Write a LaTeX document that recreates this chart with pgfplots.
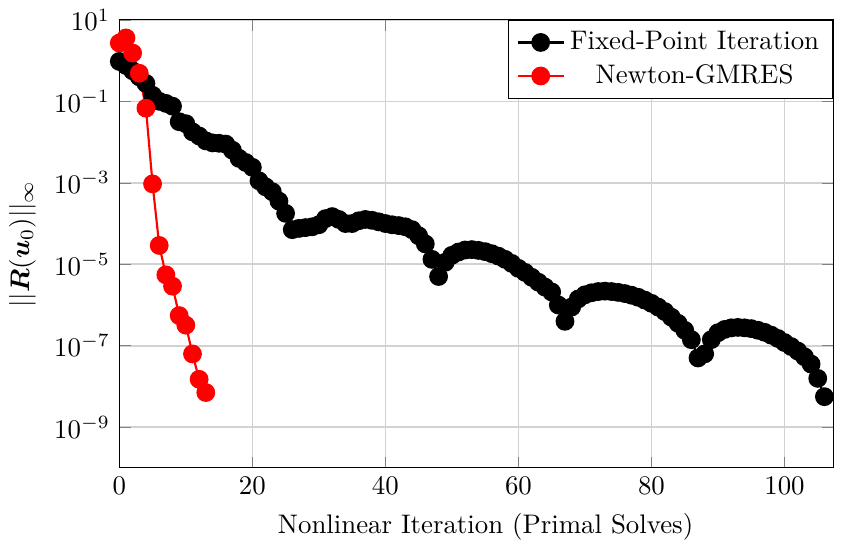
\documentclass[border=0pt]{standalone}
\usepackage{pgfplots}
\pgfplotsset{compat=1.18}
\usepackage{bm}
\begin{document}
\begin{tikzpicture}
\begin{axis}[
  scale only axis,
  width=266pt, height=167pt,
  ymode=log,
  xmin=0, xmax=107.3,
  ymin=1e-10, ymax=1e1,
  xtick={0,20,40,60,80,100},
  ytick={1e1,1e-1,1e-3,1e-5,1e-7,1e-9},
  minor ytick={},
  grid=major,
  major grid style={line width=0.6pt, draw=gray!35},
  xlabel={Nonlinear Iteration (Primal Solves)},
  xlabel style={xshift=3.5pt},
  ylabel={$||\bm{R}(\bm{u}_0)||_\infty$},
  legend cell align=center,
  legend style={at={(1,1)}, anchor=north east, draw=black, fill=white},
]
\addplot[black, thick, mark=*, mark size=3.1pt] coordinates {
(0,0.955)(1,0.759)(2,0.562)(3,0.398)(4,0.275)(5,0.141)(6,0.100)(7,0.0891)(8,0.0759)(9,0.0316)
(10,0.0282)(11,0.0178)(12,0.0141)(13,0.0107)(14,0.00955)(15,0.00933)(16,0.00891)(17,0.00631)(18,0.00398)(19,0.00316)
(20,0.00240)(21,0.00112)(22,7.94e-4)(23,6.03e-4)(24,3.55e-4)(25,1.78e-4)(26,7.08e-5)(27,7.59e-5)(28,7.94e-5)(29,8.32e-5)
(30,9.33e-5)(31,1.32e-4)(32,1.48e-4)(33,1.26e-4)(34,1.0e-4)(35,1.0e-4)(36,1.17e-4)(37,1.26e-4)(38,1.20e-4)(39,1.10e-4)
(40,1.0e-4)(41,9.33e-5)(42,8.91e-5)(43,8.32e-5)(44,7.08e-5)(45,5.01e-5)(46,3.16e-5)(47,1.32e-5)(48,5.01e-6)(49,1.12e-5)
(50,1.66e-5)(51,2.0e-5)(52,2.24e-5)(53,2.29e-5)(54,2.19e-5)(55,2.04e-5)(56,1.82e-5)(57,1.58e-5)(58,1.32e-5)(59,1.05e-5)
(60,7.94e-6)(61,6.31e-6)(62,4.79e-6)(63,3.63e-6)(64,2.75e-6)(65,2.09e-6)(66,1.0e-6)(67,3.98e-7)(68,8.91e-7)(69,1.41e-6)
(70,1.78e-6)(71,2.0e-6)(72,2.14e-6)(73,2.19e-6)(74,2.14e-6)(75,2.04e-6)(76,1.91e-6)(77,1.74e-6)(78,1.55e-6)(79,1.32e-6)
(80,1.10e-6)(81,8.91e-7)(82,6.92e-7)(83,5.01e-7)(84,3.55e-7)(85,2.40e-7)(86,1.41e-7)(87,5.01e-8)(88,6.31e-8)(89,1.41e-7)
(90,2.09e-7)(91,2.51e-7)(92,2.75e-7)(93,2.82e-7)(94,2.75e-7)(95,2.63e-7)(96,2.40e-7)(97,2.14e-7)(98,1.82e-7)(99,1.51e-7)
(100,1.20e-7)(101,9.55e-8)(102,7.41e-8)(103,5.37e-8)(104,3.55e-8)(105,1.58e-8)(106,5.62e-9)
};
\addlegendentry{Fixed-Point Iteration}
\addplot[red, thick, mark=*, mark size=3.1pt, mark options={fill=red}] coordinates {
(0,2.7)(1,3.6)(2,1.53)(3,0.49)(4,0.068)(5,9.4e-4)(6,2.9e-5)(7,5.5e-6)(8,2.9e-6)(9,5.5e-7)
(10,3.2e-7)(11,6.3e-8)(12,1.5e-8)(13,7.1e-9)
};
\addlegendentry{Newton-GMRES}
\end{axis}
\path (current axis.south east) ++(5.2pt,-30pt) coordinate (bbx);
\path[use as bounding box] (current bounding box.north west) rectangle (bbx);
\end{tikzpicture}
\end{document}
